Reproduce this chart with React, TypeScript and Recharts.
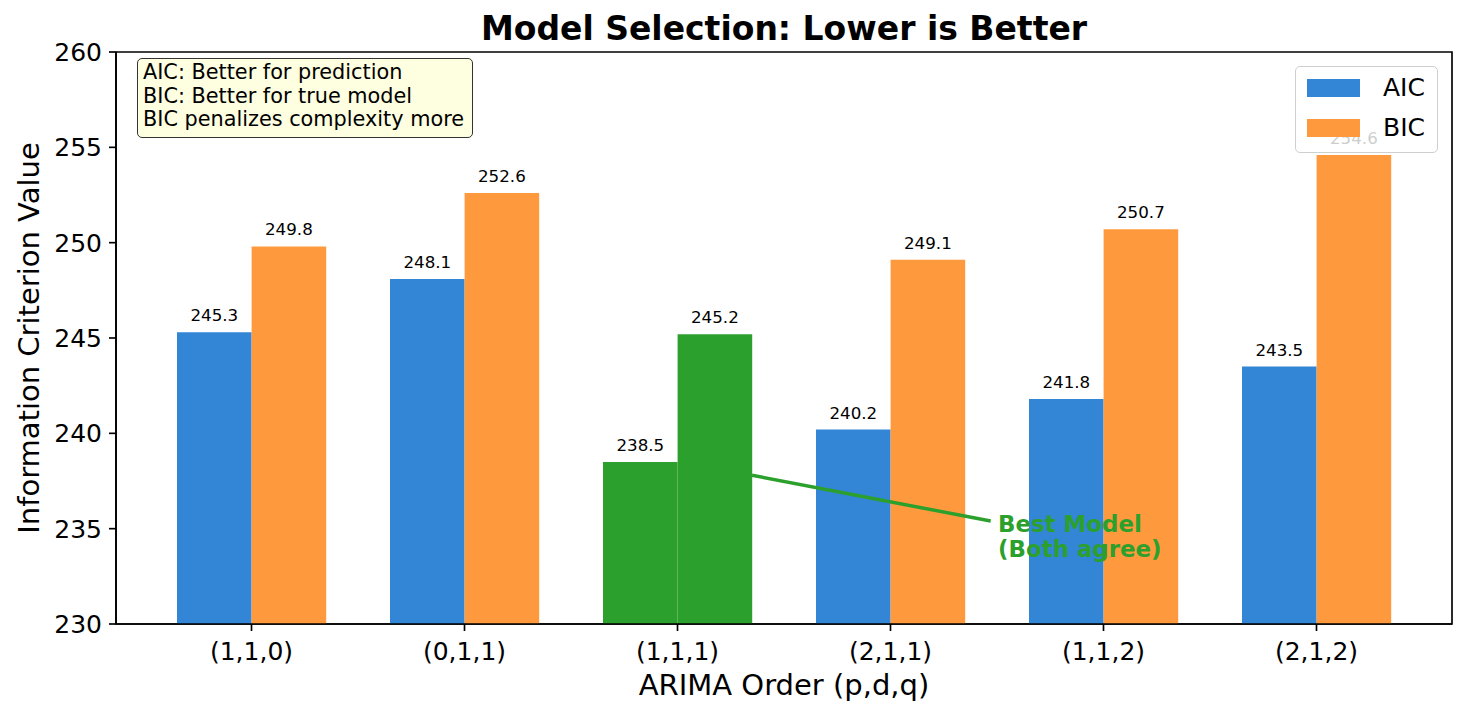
import React from 'react';
import {
    BarChart, Bar, Cell, LabelList,
    XAxis, YAxis, Legend,
    ReferenceLine, ReferenceDot, ReferenceArea
} from 'recharts';

// data
const ORDERS = ['(1,1,0)', '(0,1,1)', '(1,1,1)', '(2,1,1)', '(1,1,2)', '(2,1,2)'];
const AIC = [245.3, 248.1, 238.5, 240.2, 241.8, 243.5];
const BIC = [249.8, 252.6, 245.2, 249.1, 250.7, 254.6];
const BEST = '(1,1,1)';
const Y_TICKS = [230, 235, 240, 245, 250, 255, 260];
const NOTES = ['AIC: Better for prediction', 'BIC: Better for true model', 'BIC penalizes complexity more'];

const FONT = "'DejaVu Sans', sans-serif";
const BLUE = '#3385d6';
const ORANGE = '#ff993e';
const GREEN = '#2ca02c';

const X_DOMAIN: [number, number] = [-0.635, 5.635];

const data = ORDERS.map((order, i) => ({ order, pos: i, aic: AIC[i], bic: BIC[i] }));

const renderLegend = (props: any) => {
    const items = props.payload || [];
    return (
        <div style={{
            position: 'relative', width: 143, height: 87, boxSizing: 'border-box',
            border: '1.5px solid #cfcfcf', borderRadius: 5, background: 'rgba(255,255,255,0.8)',
            fontFamily: FONT,
        }}>
            {items.map((entry: any, i: number) => (
                <div key={entry.value} style={{ position: 'absolute', left: 0, top: 21 + i * 39.5 - 15, height: 30, width: '100%' }}>
                    <div style={{ position: 'absolute', left: 11, top: 6, width: 53, height: 18, background: entry.color }} />
                    <div style={{ position: 'absolute', left: 87, top: 0, fontSize: 25, lineHeight: '30px', color: '#000' }}>{entry.value}</div>
                </div>
            ))}
        </div>
    );
};

const AnnotationText = (props: any) => {
    const { cx, cy } = props;
    return (
        <g>
            <text x={cx + 1} y={cy} dominantBaseline="central" fill={GREEN} fontSize={22.9} fontWeight="bold" fontFamily={FONT}>Best Model</text>
            <text x={cx + 1} y={cy + 25.5} dominantBaseline="central" fill={GREEN} fontSize={22.9} fontWeight="bold" fontFamily={FONT}>(Both agree)</text>
        </g>
    );
};

export default function App() {
    const tickStyle = { fontSize: 25, fill: '#000', fontFamily: FONT };
    return (
        <div style={{ position: 'absolute', left: 0, top: 0, width: 1468, height: 717, background: '#fff', fontFamily: FONT }}>
            <div style={{
                position: 'absolute', left: 116, top: 12, width: 1336, textAlign: 'center',
                fontSize: 33, lineHeight: '33px', fontWeight: 'bold', color: '#000'
            }}>
                Model Selection: Lower is Better
            </div>
            <BarChart
                width={1468}
                height={717}
                data={data}
                margin={{ top: 52, right: 16, bottom: 0, left: 0 }}
                barGap={0}
            >
                <XAxis
                    dataKey="order"
                    interval={0}
                    height={93}
                    padding={{ left: 29, right: 29 }}
                    tick={tickStyle}
                    tickSize={7}
                    tickMargin={11}
                    axisLine={{ stroke: '#000', strokeWidth: 1.67 }}
                    tickLine={{ stroke: '#000', strokeWidth: 1.67 }}
                    label={({ viewBox }: any) => (
                        <text x={viewBox.x + viewBox.width / 2} y={viewBox.y + 71} textAnchor="middle" fontSize={29} fill="#000" fontFamily={FONT}>
                            ARIMA Order (p,d,q)
                        </text>
                    )}
                />
                <XAxis xAxisId="ann" type="number" dataKey="pos" domain={X_DOMAIN} allowDataOverflow hide />
                <YAxis
                    width={116}
                    domain={[230, 260]}
                    ticks={Y_TICKS}
                    allowDataOverflow
                    tick={tickStyle}
                    tickSize={7}
                    tickMargin={7}
                    axisLine={{ stroke: '#000', strokeWidth: 1.67 }}
                    tickLine={{ stroke: '#000', strokeWidth: 1.67 }}
                    label={({ viewBox }: any) => {
                        const x = viewBox.x + 39;
                        const y = viewBox.y + viewBox.height / 2;
                        return (
                            <text x={x} y={y} transform={`rotate(-90 ${x} ${y})`} textAnchor="middle" fontSize={29} fill="#000" fontFamily={FONT}>
                                Information Criterion Value
                            </text>
                        );
                    }}
                />
                <Legend
                    layout="vertical"
                    align="center"
                    verticalAlign="middle"
                    content={renderLegend}
                    wrapperStyle={{ left: 1295, top: 66, width: 143, height: 87 }}
                />
                <Bar dataKey="aic" name="AIC" fill={BLUE} barSize={74.6} isAnimationActive={false}>
                    {data.map((d) => (
                        <Cell key={`aic-${d.order}`} fill={d.order === BEST ? GREEN : BLUE} />
                    ))}
                    <LabelList dataKey="aic" position="top" offset={11} fontSize={16.7} fill="#000" fontFamily={FONT}
                        formatter={(v: any) => Number(v).toFixed(1)} />
                </Bar>
                <Bar dataKey="bic" name="BIC" fill={ORANGE} barSize={74.6} isAnimationActive={false}>
                    {data.map((d) => (
                        <Cell key={`bic-${d.order}`} fill={d.order === BEST ? GREEN : ORANGE} />
                    ))}
                    <LabelList dataKey="bic" position="top" offset={11} fontSize={16.7} fill="#000" fontFamily={FONT}
                        formatter={(v: any) => Number(v).toFixed(1)} />
                </Bar>
                <ReferenceArea xAxisId="ann" x1={X_DOMAIN[0]} x2={X_DOMAIN[1]} y1={230} y2={260}
                    fill="none" fillOpacity={0} stroke="#000" strokeWidth={1.67} />
                <ReferenceLine xAxisId="ann" segment={[{ x: 2.35, y: 237.8 }, { x: 3.47, y: 235.4 }]}
                    stroke={GREEN} strokeWidth={3.5} />
                <ReferenceDot xAxisId="ann" x={3.5} y={235.27} r={0} shape={AnnotationText} />
            </BarChart>
            <div style={{
                position: 'absolute', left: 137, top: 58, width: 336, height: 80, boxSizing: 'border-box',
                border: '1.5px solid #333', borderRadius: 5, background: '#fefee0', padding: '2px 5px',
                fontSize: 20.8, lineHeight: '23.5px', color: '#000', whiteSpace: 'nowrap'
            }}>
                {NOTES.map((n) => <div key={n}>{n}</div>)}
            </div>
        </div>
    );
}
